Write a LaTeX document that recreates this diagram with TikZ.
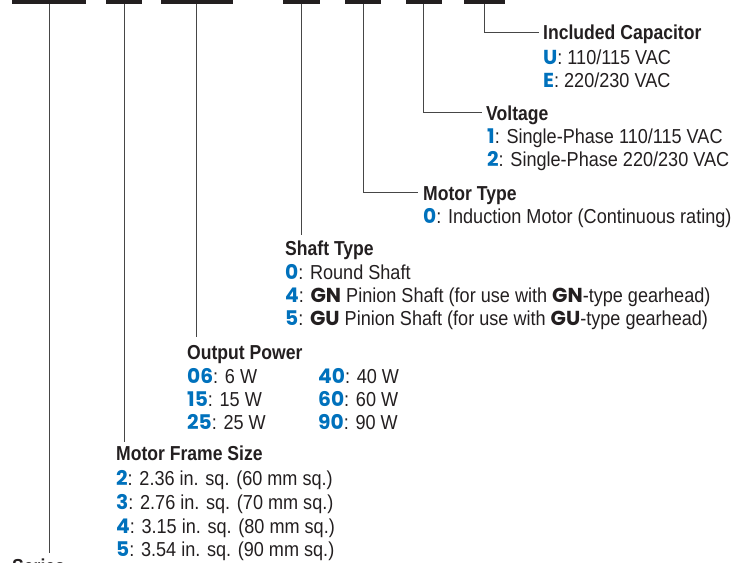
\documentclass[tikz,border=0pt]{standalone}
\usepackage{fontspec}
\usepackage{xcolor}
\setmainfont{Liberation Sans}[FakeStretch=0.895]
\newfontfamily\headfont{Liberation Sans}[FakeStretch=0.87]
\newfontfamily\codefont{Poppins}
\definecolor{codeblue}{RGB}{0,113,188}
\definecolor{inkgray}{RGB}{35,31,32}
\definecolor{leadgray}{RGB}{70,70,70}
\newcommand{\modelcode}[1]{{\codefont\bfseries\color{codeblue}#1}}
\newcommand{\partcode}[1]{{\codefont\bfseries #1}}

\begin{document}
\begin{tikzpicture}[x=1pt, y=-1pt,
    bar/.style={rectangle, fill=inkgray, inner sep=0pt, minimum height=3.5pt},
    head/.style={anchor=base west, inner sep=0pt, text height=14.5pt, text depth=0pt,
                 font=\headfont\bfseries\fontsize{20.2}{23}\selectfont, color=inkgray},
    item/.style={anchor=base west, inner sep=0pt,
                 font=\fontsize{20.2}{23}\selectfont, color=inkgray},
    lead/.style={draw=leadgray, line width=0.9pt}
]
    \useasboundingbox (0,0) rectangle (733,562);
    \clip (0,0) rectangle (733,562);
    % code positions
    \node[bar, minimum width=74pt] (bar1) at (49,1.75)    {};
    \node[bar, minimum width=36pt] (bar2) at (124,1.75)   {};
    \node[bar, minimum width=72pt] (bar3) at (196.5,1.75) {};
    \node[bar, minimum width=37pt] (bar4) at (301.5,1.75) {};
    \node[bar, minimum width=36pt] (bar5) at (363,1.75)   {};
    \node[bar, minimum width=36pt] (bar6) at (423.5,1.75) {};
    \node[bar, minimum width=41pt] (bar7) at (484.5,1.75) {};

    \node[head] (cap)   at (543,39.5) {Included Capacitor};
    \node[item] (capU)  at (543,64) {\modelcode{U}: 110/115 VAC};
    \node[item] (capE)  at (543,87) {\modelcode{E}: 220/230 VAC};

    \node[head] (volt)  at (486,120) {Voltage};
    \node[item] (volt1) at (487,143) {\modelcode{1}: Single-Phase 110/115 VAC};
    \node[item] (volt2) at (487,166) {\modelcode{2}: Single-Phase 220/230 VAC};

    \node[head] (mtype)  at (423,200) {Motor Type};
    \node[item] (mtype0) at (423,223) {\modelcode{0}: Induction Motor (Continuous rating)};

    \node[head] (shaft)  at (285,255) {Shaft Type};
    \node[item] (shaft0) at (285,279) {\modelcode{0}: Round Shaft};
    \node[item] (shaft4) at (285,302) {\modelcode{4}: \partcode{GN} Pinion Shaft (for use with \partcode{GN}-type gearhead)};
    \node[item] (shaft5) at (285,325) {\modelcode{5}: \partcode{GU} Pinion Shaft (for use with \partcode{GU}-type gearhead)};

    \node[head] (power) at (187,359.5) {Output Power};
    \node[item] (pw06)  at (187,383) {\modelcode{06}: 6 W};
    \node[item] (pw15)  at (187,406) {\modelcode{15}: 15 W};
    \node[item] (pw25)  at (187,429.5) {\modelcode{25}: 25 W};
    \node[item] (pw40)  at (318,383) {\modelcode{40}: 40 W};
    \node[item] (pw60)  at (318,406) {\modelcode{60}: 60 W};
    \node[item] (pw90)  at (318,429.5) {\modelcode{90}: 90 W};

    \node[head] (frame)  at (116,460.5) {Motor Frame Size};
    \node[item] (frame2) at (116,485) {\modelcode{2}: 2.36 in. sq. (60 mm sq.)};
    \node[item] (frame3) at (116,509) {\modelcode{3}: 2.76 in. sq. (70 mm sq.)};
    \node[item] (frame4) at (116,533) {\modelcode{4}: 3.15 in. sq. (80 mm sq.)};
    \node[item] (frame5) at (116,556) {\modelcode{5}: 3.54 in. sq. (90 mm sq.)};

    \node[head] (series) at (12,573) {Series};

    % leader lines
    \draw[lead] (bar7.south) |- ([xshift=-4pt]cap.west);
    \draw[lead] (bar6.south) |- ([xshift=-4pt]volt.west);
    \draw[lead] (bar5.south) |- ([xshift=-5pt]mtype.west);
    \draw[lead] (bar4.south) -- ([yshift=5pt]bar4.south |- shaft.north);
    \draw[lead] (bar3.south) -- ([yshift=8pt]bar3.south |- power.north);
    \draw[lead] (bar2.south) -- ([yshift=4pt]bar2.south |- frame.north);
    \draw[lead] (bar1.south) -- ([yshift=5pt]bar1.south |- series.north);
\end{tikzpicture}
\end{document}
